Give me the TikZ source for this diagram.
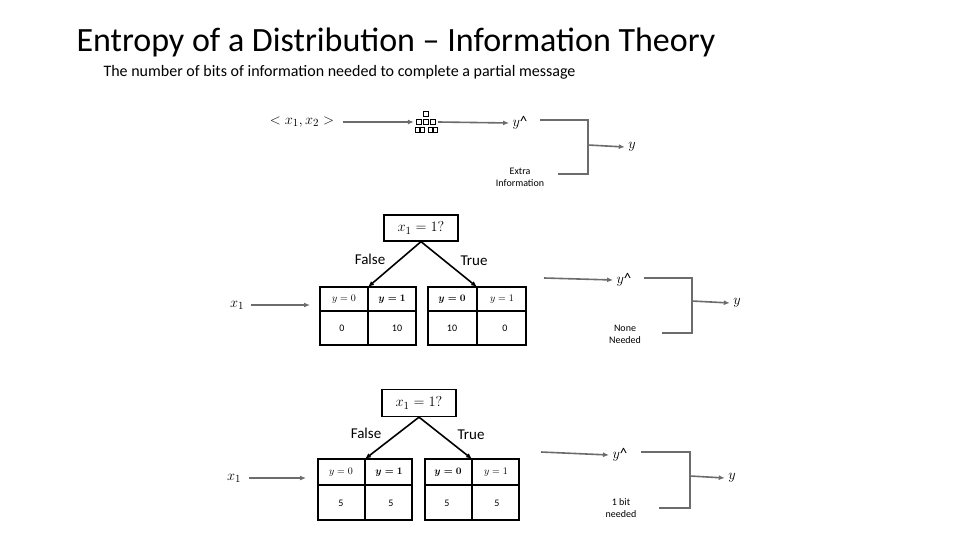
\documentclass[tikz,border=0pt]{standalone}
\usepackage{amsmath,amssymb}
\usepackage{fontspec}
\setmainfont{Carlito}
\usetikzlibrary{arrows.meta}
\begin{document}
\begin{tikzpicture}[x=1pt,y=-1pt,
 garr/.style={draw=gray!85!black,line width=1.6pt,-{Latex[length=6pt,width=5pt]}},
 gline/.style={draw=gray!85!black,line width=1.6pt},
 barr/.style={draw=black,line width=1.6pt,-{Latex[length=6pt,width=5pt]}},
 box/.style={draw=black,line width=1.3pt,inner sep=0pt},
 lab/.style={font=\fontsize{15}{15}\selectfont},
 small/.style={font=\fontsize{10}{12}\selectfont,align=center},
 mth/.style={font=\fontsize{15}{15}\selectfont},
 cell/.style={font=\fontsize{10}{10}\selectfont}]
\useasboundingbox (0,0) rectangle (960,540);
\node[anchor=west,font=\fontsize{34}{34}\selectfont] (title) at (73,42) {Entropy of a Distribution – Information Theory};
\node[anchor=west,font=\fontsize{16}{16}\selectfont] (sub) at (100,72) {The number of bits of information needed to complete a partial message};
% top row
\node[mth] (in) at (302,122) {$<x_1,x_2>$};
\node[inner sep=0pt,minimum size=24pt] (icon) at (426,122) {};
\foreach \dx/\dy in {0/-8,-7/0,0/0,7/0,-8/8,-4/8,5/8,9/8}{\draw[line width=0.6pt] (426+\dx-2.5,122+\dy-2.5) rectangle ++(5,5);}
\node[mth] (yh0) at (520,123) {$y$\^{}};
\node[mth] (y0) at (632,147) {$y$};
\node[small] (ex) at (520,177) {Extra\\Information};
\coordinate (b0a) at (588,120); \coordinate (b0b) at (588,174); \coordinate (b0m) at (588,145);
\draw[garr] (in.east) ++(5,0) -- (icon.west);
\draw[garr] (icon.east) -- (yh0.west);
\draw[gline] (540,120) -- (b0a) -- (b0b) -- (558,174);
\draw[garr] (b0m) -- (y0.west);
% middle tree
\node[box,minimum width=74pt,minimum height=26pt,mth] (r1) at (421,228) {$x_1=1?$};
\draw[box] (320,287) rectangle (416,345); \draw[box] (320,311)--(416,311); \draw[box] (368,287)--(368,345);
\draw[box] (428,287) rectangle (526,345); \draw[box] (428,311)--(526,311); \draw[box] (477,287)--(477,345);
\coordinate (l1) at (368,287); \coordinate (t1) at (477,287);
\node[cell] (c1) at (344,299) {$y=0$}; \node[cell] (c2) at (392,299) {$\boldsymbol{y=1}$};
\node[cell] (c3) at (452,299) {$\boldsymbol{y=0}$}; \node[cell] (c4) at (502,299) {$y=1$};
\node[cell] (v1) at (342,328) {0}; \node[cell] (v2) at (397,328) {10};
\node[cell] (v3) at (452,328) {10}; \node[cell] (v4) at (505,328) {0};
\draw[barr] (r1.south) -- (l1); \draw[barr] (r1.south) -- (t1);
\node[lab] (f1) at (370,259) {False}; \node[lab] (tr1) at (474,261) {True};
\node[mth] (x1a) at (237,305) {$x_1$};
\coordinate (e1) at (310,305);
\draw[garr] (251,305) -- (e1);
\coordinate (s1) at (544,278);
\node[mth] (yh1) at (624,280) {$y$\^{}};
\draw[garr] (s1) -- (yh1.west);
\draw[gline] (644,278) -- (692,278) -- (692,333) -- (662,333);
\node[mth] (y1) at (737,303) {$y$};
\draw[garr] (692,301) -- (y1.west);
\node[small] (nn) at (625,334) {None\\Needed};
% bottom tree
\node[box,minimum width=74pt,minimum height=27pt,mth] (r2) at (419,403) {$x_1=1?$};
\draw[box] (318,459) rectangle (412,520); \draw[box] (318,485)--(412,485); \draw[box] (365,459)--(365,520);
\draw[box] (425,459) rectangle (519,520); \draw[box] (425,485)--(519,485); \draw[box] (472,459)--(472,520);
\coordinate (l2) at (365,459); \coordinate (t2) at (472,459);
\node[cell] (d1) at (341,472) {$y=0$}; \node[cell] (d2) at (389,472) {$\boldsymbol{y=1}$};
\node[cell] (d3) at (448,472) {$\boldsymbol{y=0}$}; \node[cell] (d4) at (496,472) {$y=1$};
\node[cell] (w1) at (341,503) {5}; \node[cell] (w2) at (391,503) {5};
\node[cell] (w3) at (447,503) {5}; \node[cell] (w4) at (497,503) {5};
\draw[barr] (r2.south) -- (l2); \draw[barr] (r2.south) -- (t2);
\node[lab] (f2) at (366,433) {False}; \node[lab] (tr2) at (471,435) {True};
\node[mth] (x1b) at (234,478) {$x_1$};
\coordinate (e2) at (306,478);
\draw[garr] (249,478) -- (e2);
\coordinate (s2) at (541,452);
\node[mth] (yh2) at (620,455) {$y$\^{}};
\draw[garr] (s2) -- (yh2.west);
\draw[gline] (641,452) -- (690,452) -- (690,508) -- (659,508);
\node[mth] (y2) at (732,478) {$y$};
\draw[garr] (690,476) -- (y2.west);
\node[small] (ob) at (621,508) {1 bit\\needed};
\end{tikzpicture}
\end{document}
